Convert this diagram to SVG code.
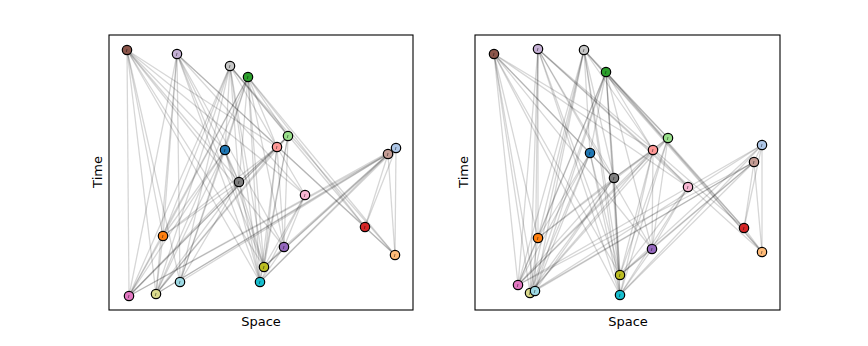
<svg xmlns="http://www.w3.org/2000/svg" width="868" height="346" viewBox="0 0 868 346">
<style>
.bg{fill:#fff}
.frame{fill:none;stroke:#000;stroke-width:1.1}
.e line{stroke:#000;stroke-opacity:0.16;stroke-width:1.3}
.n circle{stroke:#000;stroke-width:1.2}
.n line{stroke:#000;stroke-opacity:0.55;stroke-width:0.8}
.lbl{font-family:"DejaVu Sans",sans-serif;font-size:13px;fill:#000}
.brown{fill:#8c564b}.lav{fill:#c5b0d5}.lgray{fill:#c7c7c7}.green{fill:#2ca02c}.lgreen{fill:#98df8a}.lred{fill:#ff9896}.lblue{fill:#aec7e8}.blue{fill:#1f77b4}.rosy{fill:#c49c94}.dgray{fill:#7f7f7f}.lpink{fill:#f7b6d2}.red{fill:#d62728}.orange{fill:#ff7f0e}.purple{fill:#9467bd}.lorange{fill:#ffbb78}.olive{fill:#bcbd22}.cyan{fill:#17becf}.lcyan{fill:#9edae5}.khaki{fill:#dbdb8d}.pink{fill:#e377c2}
</style>
<rect class="bg" x="0" y="0" width="868" height="346"/>

<g id="connectors-left" class="e">
<line x1="127" y1="50" x2="129" y2="296"/><line x1="127" y1="50" x2="156" y2="294"/><line x1="127" y1="50" x2="180" y2="282"/><line x1="127" y1="50" x2="163" y2="236"/><line x1="127" y1="50" x2="239" y2="182"/><line x1="127" y1="50" x2="225" y2="150"/><line x1="127" y1="50" x2="284" y2="247"/><line x1="127" y1="50" x2="264" y2="267"/><line x1="127" y1="50" x2="260" y2="282"/><line x1="127" y1="50" x2="277" y2="147"/><line x1="127" y1="50" x2="305" y2="195"/>
<line x1="177" y1="54" x2="129" y2="296"/><line x1="177" y1="54" x2="156" y2="294"/><line x1="177" y1="54" x2="163" y2="236"/><line x1="177" y1="54" x2="180" y2="282"/><line x1="177" y1="54" x2="239" y2="182"/><line x1="177" y1="54" x2="284" y2="247"/><line x1="177" y1="54" x2="264" y2="267"/><line x1="177" y1="54" x2="260" y2="282"/><line x1="177" y1="54" x2="365" y2="227"/><line x1="177" y1="54" x2="395" y2="255"/><line x1="177" y1="54" x2="305" y2="195"/>
<line x1="230" y1="66" x2="129" y2="296"/><line x1="230" y1="66" x2="156" y2="294"/><line x1="230" y1="66" x2="163" y2="236"/><line x1="230" y1="66" x2="180" y2="282"/><line x1="230" y1="66" x2="225" y2="150"/><line x1="230" y1="66" x2="239" y2="182"/><line x1="230" y1="66" x2="264" y2="267"/><line x1="230" y1="66" x2="260" y2="282"/><line x1="230" y1="66" x2="277" y2="147"/><line x1="230" y1="66" x2="365" y2="227"/><line x1="230" y1="66" x2="395" y2="255"/><line x1="230" y1="66" x2="288" y2="136"/>
<line x1="248" y1="77" x2="129" y2="296"/><line x1="248" y1="77" x2="156" y2="294"/><line x1="248" y1="77" x2="163" y2="236"/><line x1="248" y1="77" x2="180" y2="282"/><line x1="248" y1="77" x2="225" y2="150"/><line x1="248" y1="77" x2="239" y2="182"/><line x1="248" y1="77" x2="288" y2="136"/><line x1="248" y1="77" x2="277" y2="147"/><line x1="248" y1="77" x2="284" y2="247"/><line x1="248" y1="77" x2="264" y2="267"/><line x1="248" y1="77" x2="260" y2="282"/><line x1="248" y1="77" x2="365" y2="227"/><line x1="248" y1="77" x2="395" y2="255"/>
<line x1="288" y1="136" x2="277" y2="147"/><line x1="288" y1="136" x2="239" y2="182"/><line x1="288" y1="136" x2="284" y2="247"/><line x1="288" y1="136" x2="264" y2="267"/><line x1="288" y1="136" x2="260" y2="282"/><line x1="288" y1="136" x2="129" y2="296"/><line x1="288" y1="136" x2="156" y2="294"/>
<line x1="277" y1="147" x2="239" y2="182"/><line x1="277" y1="147" x2="129" y2="296"/><line x1="277" y1="147" x2="156" y2="294"/><line x1="277" y1="147" x2="163" y2="236"/><line x1="277" y1="147" x2="284" y2="247"/><line x1="277" y1="147" x2="264" y2="267"/><line x1="277" y1="147" x2="260" y2="282"/><line x1="277" y1="147" x2="305" y2="195"/>
<line x1="225" y1="150" x2="239" y2="182"/><line x1="225" y1="150" x2="163" y2="236"/><line x1="225" y1="150" x2="129" y2="296"/><line x1="225" y1="150" x2="156" y2="294"/><line x1="225" y1="150" x2="180" y2="282"/><line x1="225" y1="150" x2="264" y2="267"/><line x1="225" y1="150" x2="260" y2="282"/>
<line x1="396" y1="148" x2="388" y2="154"/><line x1="396" y1="148" x2="365" y2="227"/><line x1="396" y1="148" x2="395" y2="255"/><line x1="396" y1="148" x2="129" y2="296"/><line x1="396" y1="148" x2="156" y2="294"/><line x1="396" y1="148" x2="260" y2="282"/><line x1="396" y1="148" x2="264" y2="267"/>
<line x1="388" y1="154" x2="365" y2="227"/><line x1="388" y1="154" x2="395" y2="255"/><line x1="388" y1="154" x2="129" y2="296"/><line x1="388" y1="154" x2="156" y2="294"/><line x1="388" y1="154" x2="180" y2="282"/><line x1="388" y1="154" x2="264" y2="267"/><line x1="388" y1="154" x2="260" y2="282"/><line x1="388" y1="154" x2="284" y2="247"/>
<line x1="239" y1="182" x2="129" y2="296"/><line x1="239" y1="182" x2="156" y2="294"/><line x1="239" y1="182" x2="180" y2="282"/><line x1="239" y1="182" x2="163" y2="236"/><line x1="239" y1="182" x2="264" y2="267"/><line x1="239" y1="182" x2="260" y2="282"/>
<line x1="305" y1="195" x2="284" y2="247"/><line x1="305" y1="195" x2="264" y2="267"/><line x1="305" y1="195" x2="260" y2="282"/>
<line x1="365" y1="227" x2="395" y2="255"/>
<line x1="163" y1="236" x2="129" y2="296"/><line x1="163" y1="236" x2="156" y2="294"/>
<line x1="284" y1="247" x2="264" y2="267"/><line x1="284" y1="247" x2="260" y2="282"/>
</g>

<g id="connectors-right" class="e">
<line x1="494" y1="54" x2="518" y2="285"/><line x1="494" y1="54" x2="530" y2="293"/><line x1="494" y1="54" x2="535" y2="291"/><line x1="494" y1="54" x2="538" y2="238"/><line x1="494" y1="54" x2="614" y2="178"/><line x1="494" y1="54" x2="590" y2="153"/><line x1="494" y1="54" x2="652" y2="249"/><line x1="494" y1="54" x2="620" y2="275"/><line x1="494" y1="54" x2="620" y2="295"/><line x1="494" y1="54" x2="653" y2="150"/><line x1="494" y1="54" x2="688" y2="187"/>
<line x1="538" y1="49" x2="518" y2="285"/><line x1="538" y1="49" x2="530" y2="293"/><line x1="538" y1="49" x2="538" y2="238"/><line x1="538" y1="49" x2="535" y2="291"/><line x1="538" y1="49" x2="614" y2="178"/><line x1="538" y1="49" x2="652" y2="249"/><line x1="538" y1="49" x2="620" y2="275"/><line x1="538" y1="49" x2="620" y2="295"/><line x1="538" y1="49" x2="744" y2="228"/><line x1="538" y1="49" x2="762" y2="252"/><line x1="538" y1="49" x2="688" y2="187"/>
<line x1="584" y1="50" x2="518" y2="285"/><line x1="584" y1="50" x2="530" y2="293"/><line x1="584" y1="50" x2="538" y2="238"/><line x1="584" y1="50" x2="535" y2="291"/><line x1="584" y1="50" x2="590" y2="153"/><line x1="584" y1="50" x2="614" y2="178"/><line x1="584" y1="50" x2="620" y2="275"/><line x1="584" y1="50" x2="620" y2="295"/><line x1="584" y1="50" x2="653" y2="150"/><line x1="584" y1="50" x2="744" y2="228"/><line x1="584" y1="50" x2="762" y2="252"/><line x1="584" y1="50" x2="668" y2="138"/>
<line x1="606" y1="72" x2="518" y2="285"/><line x1="606" y1="72" x2="530" y2="293"/><line x1="606" y1="72" x2="538" y2="238"/><line x1="606" y1="72" x2="535" y2="291"/><line x1="606" y1="72" x2="590" y2="153"/><line x1="606" y1="72" x2="614" y2="178"/><line x1="606" y1="72" x2="668" y2="138"/><line x1="606" y1="72" x2="653" y2="150"/><line x1="606" y1="72" x2="652" y2="249"/><line x1="606" y1="72" x2="620" y2="275"/><line x1="606" y1="72" x2="620" y2="295"/><line x1="606" y1="72" x2="744" y2="228"/><line x1="606" y1="72" x2="762" y2="252"/>
<line x1="668" y1="138" x2="653" y2="150"/><line x1="668" y1="138" x2="614" y2="178"/><line x1="668" y1="138" x2="652" y2="249"/><line x1="668" y1="138" x2="620" y2="275"/><line x1="668" y1="138" x2="620" y2="295"/><line x1="668" y1="138" x2="518" y2="285"/><line x1="668" y1="138" x2="530" y2="293"/>
<line x1="653" y1="150" x2="614" y2="178"/><line x1="653" y1="150" x2="518" y2="285"/><line x1="653" y1="150" x2="530" y2="293"/><line x1="653" y1="150" x2="538" y2="238"/><line x1="653" y1="150" x2="652" y2="249"/><line x1="653" y1="150" x2="620" y2="275"/><line x1="653" y1="150" x2="620" y2="295"/><line x1="653" y1="150" x2="688" y2="187"/>
<line x1="590" y1="153" x2="614" y2="178"/><line x1="590" y1="153" x2="538" y2="238"/><line x1="590" y1="153" x2="518" y2="285"/><line x1="590" y1="153" x2="530" y2="293"/><line x1="590" y1="153" x2="535" y2="291"/><line x1="590" y1="153" x2="620" y2="275"/><line x1="590" y1="153" x2="620" y2="295"/>
<line x1="762" y1="145" x2="754" y2="162"/><line x1="762" y1="145" x2="744" y2="228"/><line x1="762" y1="145" x2="762" y2="252"/><line x1="762" y1="145" x2="518" y2="285"/><line x1="762" y1="145" x2="530" y2="293"/><line x1="762" y1="145" x2="620" y2="295"/><line x1="762" y1="145" x2="620" y2="275"/>
<line x1="754" y1="162" x2="744" y2="228"/><line x1="754" y1="162" x2="762" y2="252"/><line x1="754" y1="162" x2="518" y2="285"/><line x1="754" y1="162" x2="530" y2="293"/><line x1="754" y1="162" x2="535" y2="291"/><line x1="754" y1="162" x2="620" y2="275"/><line x1="754" y1="162" x2="620" y2="295"/><line x1="754" y1="162" x2="652" y2="249"/>
<line x1="614" y1="178" x2="518" y2="285"/><line x1="614" y1="178" x2="530" y2="293"/><line x1="614" y1="178" x2="535" y2="291"/><line x1="614" y1="178" x2="538" y2="238"/><line x1="614" y1="178" x2="620" y2="275"/><line x1="614" y1="178" x2="620" y2="295"/>
<line x1="688" y1="187" x2="652" y2="249"/><line x1="688" y1="187" x2="620" y2="275"/><line x1="688" y1="187" x2="620" y2="295"/>
<line x1="744" y1="228" x2="762" y2="252"/>
<line x1="538" y1="238" x2="518" y2="285"/><line x1="538" y1="238" x2="530" y2="293"/>
<line x1="652" y1="249" x2="620" y2="275"/><line x1="652" y1="249" x2="620" y2="295"/>
</g>

<g id="nodes-left" class="n">
<g id="L-brown"><circle class="brown" cx="127" cy="50" r="4.7"/><line x1="127" y1="49" x2="126.3" y2="52"/></g>
<g id="L-lavender"><circle class="lav" cx="177" cy="54" r="4.7"/><line x1="177" y1="53" x2="176.3" y2="56"/></g>
<g id="L-lightgray"><circle class="lgray" cx="230" cy="66" r="4.7"/><line x1="230" y1="65" x2="229.3" y2="68"/></g>
<g id="L-green"><circle class="green" cx="248" cy="77" r="4.7"/><line x1="248" y1="76" x2="247.3" y2="79"/></g>
<g id="L-lightgreen"><circle class="lgreen" cx="288" cy="136" r="4.7"/><line x1="288" y1="135" x2="287.3" y2="138"/></g>
<g id="L-lightred"><circle class="lred" cx="277" cy="147" r="4.7"/><line x1="277" y1="146" x2="276.3" y2="149"/></g>
<g id="L-lightblue"><circle class="lblue" cx="396" cy="148" r="4.7"/><line x1="396" y1="147" x2="395.3" y2="150"/></g>
<g id="L-blue"><circle class="blue" cx="225" cy="150" r="4.7"/><line x1="225" y1="149" x2="224.3" y2="152"/></g>
<g id="L-rosybrown"><circle class="rosy" cx="388" cy="154" r="4.7"/><line x1="388" y1="153" x2="387.3" y2="156"/></g>
<g id="L-darkgray"><circle class="dgray" cx="239" cy="182" r="4.7"/><line x1="239" y1="181" x2="238.3" y2="184"/></g>
<g id="L-lightpink"><circle class="lpink" cx="305" cy="195" r="4.7"/><line x1="305" y1="194" x2="304.3" y2="197"/></g>
<g id="L-red"><circle class="red" cx="365" cy="227" r="4.7"/><line x1="365" y1="226" x2="364.3" y2="229"/></g>
<g id="L-orange"><circle class="orange" cx="163" cy="236" r="4.7"/><line x1="163" y1="235" x2="162.3" y2="238"/></g>
<g id="L-purple"><circle class="purple" cx="284" cy="247" r="4.7"/><line x1="284" y1="246" x2="283.3" y2="249"/></g>
<g id="L-lightorange"><circle class="lorange" cx="395" cy="255" r="4.7"/><line x1="395" y1="254" x2="394.3" y2="257"/></g>
<g id="L-olive"><circle class="olive" cx="264" cy="267" r="4.7"/><line x1="264" y1="266" x2="263.3" y2="269"/></g>
<g id="L-cyan"><circle class="cyan" cx="260" cy="282" r="4.7"/><line x1="260" y1="281" x2="259.3" y2="284"/></g>
<g id="L-lightcyan"><circle class="lcyan" cx="180" cy="282" r="4.7"/><line x1="180" y1="281" x2="179.3" y2="284"/></g>
<g id="L-khaki"><circle class="khaki" cx="156" cy="294" r="4.7"/><line x1="156" y1="293" x2="155.3" y2="296"/></g>
<g id="L-pink"><circle class="pink" cx="129" cy="296" r="4.7"/><line x1="129" y1="295" x2="128.3" y2="298"/></g>
</g>

<g id="nodes-right" class="n">
<g id="R-brown"><circle class="brown" cx="494" cy="54" r="4.7"/><line x1="494" y1="53" x2="493.3" y2="56"/></g>
<g id="R-lavender"><circle class="lav" cx="538" cy="49" r="4.7"/><line x1="538" y1="48" x2="537.3" y2="51"/></g>
<g id="R-lightgray"><circle class="lgray" cx="584" cy="50" r="4.7"/><line x1="584" y1="49" x2="583.3" y2="52"/></g>
<g id="R-green"><circle class="green" cx="606" cy="72" r="4.7"/><line x1="606" y1="71" x2="605.3" y2="74"/></g>
<g id="R-lightgreen"><circle class="lgreen" cx="668" cy="138" r="4.7"/><line x1="668" y1="137" x2="667.3" y2="140"/></g>
<g id="R-lightred"><circle class="lred" cx="653" cy="150" r="4.7"/><line x1="653" y1="149" x2="652.3" y2="152"/></g>
<g id="R-lightblue"><circle class="lblue" cx="762" cy="145" r="4.7"/><line x1="762" y1="144" x2="761.3" y2="147"/></g>
<g id="R-blue"><circle class="blue" cx="590" cy="153" r="4.7"/><line x1="590" y1="152" x2="589.3" y2="155"/></g>
<g id="R-rosybrown"><circle class="rosy" cx="754" cy="162" r="4.7"/><line x1="754" y1="161" x2="753.3" y2="164"/></g>
<g id="R-darkgray"><circle class="dgray" cx="614" cy="178" r="4.7"/><line x1="614" y1="177" x2="613.3" y2="180"/></g>
<g id="R-lightpink"><circle class="lpink" cx="688" cy="187" r="4.7"/><line x1="688" y1="186" x2="687.3" y2="189"/></g>
<g id="R-red"><circle class="red" cx="744" cy="228" r="4.7"/><line x1="744" y1="227" x2="743.3" y2="230"/></g>
<g id="R-orange"><circle class="orange" cx="538" cy="238" r="4.7"/><line x1="538" y1="237" x2="537.3" y2="240"/></g>
<g id="R-purple"><circle class="purple" cx="652" cy="249" r="4.7"/><line x1="652" y1="248" x2="651.3" y2="251"/></g>
<g id="R-lightorange"><circle class="lorange" cx="762" cy="252" r="4.7"/><line x1="762" y1="251" x2="761.3" y2="254"/></g>
<g id="R-olive"><circle class="olive" cx="620" cy="275" r="4.7"/><line x1="620" y1="274" x2="619.3" y2="277"/></g>
<g id="R-cyan"><circle class="cyan" cx="620" cy="295" r="4.7"/><line x1="620" y1="294" x2="619.3" y2="297"/></g>
<g id="R-pink"><circle class="pink" cx="518" cy="285" r="4.7"/><line x1="518" y1="284" x2="517.3" y2="287"/></g>
<g id="R-khaki"><circle class="khaki" cx="530" cy="293" r="4.7"/><line x1="530" y1="292" x2="529.3" y2="295"/></g>
<g id="R-lightcyan"><circle class="lcyan" cx="535" cy="291" r="4.7"/><line x1="535" y1="290" x2="534.3" y2="293"/></g>
</g>

<rect class="frame" x="109" y="35" width="304" height="275"/>
<rect class="frame" x="475" y="35" width="305" height="275"/>

<text class="lbl" x="261" y="326" text-anchor="middle">Space</text>
<text class="lbl" x="628" y="326" text-anchor="middle">Space</text>
<text class="lbl" transform="translate(102,172) rotate(-90)" text-anchor="middle">Time</text>
<text class="lbl" transform="translate(468,172) rotate(-90)" text-anchor="middle">Time</text>
</svg>
